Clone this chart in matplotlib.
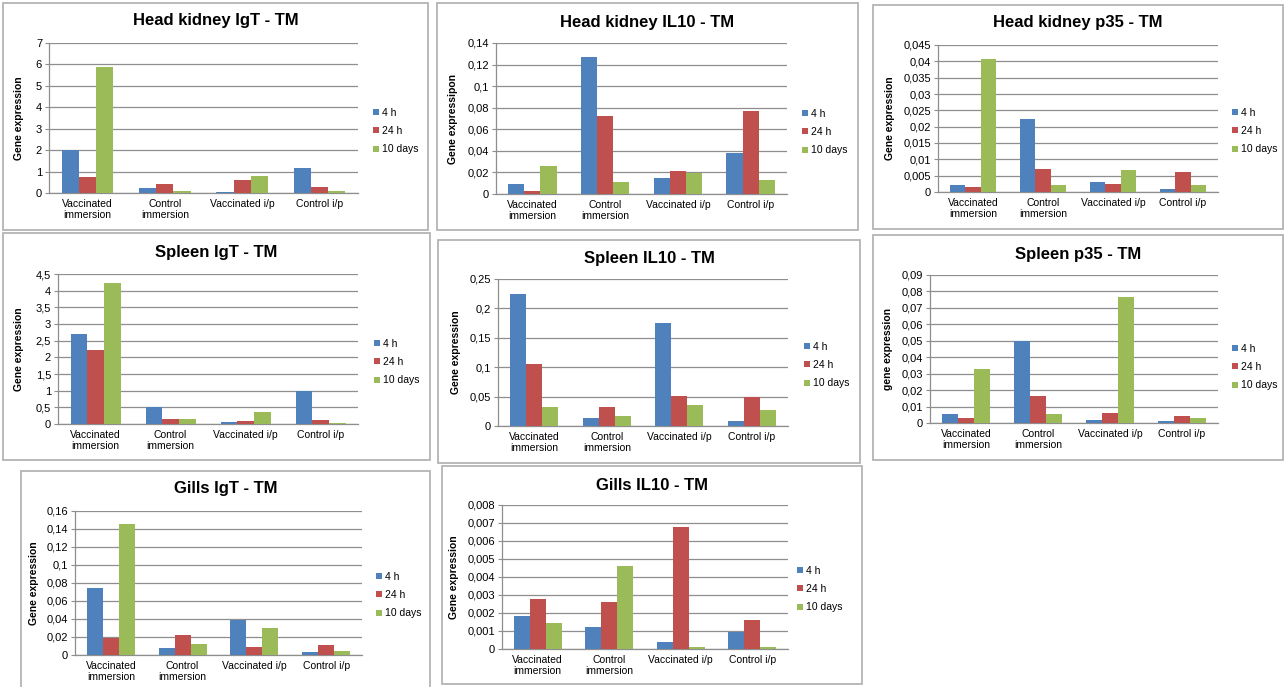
import matplotlib
matplotlib.use('Agg')
import matplotlib.pyplot as plt
from matplotlib.patches import Rectangle
from matplotlib.ticker import MultipleLocator, FuncFormatter
import numpy as np

plt.rcParams['font.family'] = ['Liberation Sans', 'DejaVu Sans']

W, H = 1288, 687

categories = ['Vaccinated\nimmersion', 'Control\nimmersion', 'Vaccinated i/p', 'Control i/p']
series = ['4 h', '24 h', '10 days']
colors = ['#4F81BD', '#C0504D', '#9BBB59']

# данные по панелям: [4 h, 24 h, 10 days]
hk_igt = [[2.03, 0.24, 0.05, 1.18],
          [0.77, 0.42, 0.60, 0.30],
          [5.90, 0.08, 0.80, 0.11]]
hk_il10 = [[0.0096, 0.127, 0.015, 0.038],
           [0.0028, 0.072, 0.0214, 0.0765],
           [0.0263, 0.0111, 0.0198, 0.0133]]
hk_p35 = [[0.0020, 0.0224, 0.0030, 0.0010],
          [0.0016, 0.0069, 0.0026, 0.0062],
          [0.0406, 0.0020, 0.0067, 0.0021]]
sp_igt = [[2.70, 0.50, 0.06, 1.00],
          [2.21, 0.16, 0.10, 0.11],
          [4.23, 0.14, 0.36, 0.04]]
sp_il10 = [[0.225, 0.013, 0.1756, 0.008],
           [0.1057, 0.0318, 0.0506, 0.050],
           [0.0324, 0.017, 0.0352, 0.0273]]
sp_p35 = [[0.0055, 0.050, 0.0020, 0.0014],
          [0.0033, 0.0165, 0.0063, 0.0041],
          [0.0327, 0.0057, 0.0769, 0.0031]]
gi_igt = [[0.075, 0.0074, 0.0388, 0.0033],
          [0.0192, 0.0222, 0.0085, 0.0111],
          [0.146, 0.0118, 0.0296, 0.0041]]
gi_il10 = [[0.00182, 0.0012, 0.0004, 0.00092],
           [0.0028, 0.00262, 0.0068, 0.00159],
           [0.00146, 0.00459, 0.0001, 0.0001]]

titles = ['Head kidney IgT - TM', 'Head kidney IL10 - TM', 'Head kidney p35 - TM',
          'Spleen IgT - TM', 'Spleen IL10 - TM', 'Spleen p35 - TM',
          'Gills IgT - TM', 'Gills IL10 - TM']
ylabels = ['Gene expression', 'Gene expressipon', 'Gene expression',
           'Gene expression', 'Gene expression', 'gene expression',
           'Gene expression', 'Gene expression']
ymax = [7, 0.14, 0.045, 4.5, 0.25, 0.09, 0.16, 0.008]
ystep = [1, 0.02, 0.005, 0.5, 0.05, 0.01, 0.02, 0.001]
values = [hk_igt, hk_il10, hk_p35, sp_igt, sp_il10, sp_p35, gi_igt, gi_il10]

# геометрия в пикселях
boxes = [(3, 3, 428, 230), (437, 3, 858, 230), (873, 5, 1283, 229),
         (3, 233, 430, 460), (438, 240, 860, 463), (873, 235, 1283, 460),
         (21, 471, 430, 692), (442, 466, 862, 684)]
axes_px = [(49, 43, 358, 193), (496, 43, 787, 194), (938, 45, 1218, 192),
           (58, 274, 358, 424), (498, 279, 788, 426), (930, 275, 1218, 423),
           (75, 511, 362, 655), (502, 505, 788, 649)]
title_y = [21, 23, 23, 253, 258, 254, 489, 485]
ylabel_x = [24, 458, 895, 24, 461, 893, 39, 459]
legend_xy = [(373, 131), (802, 132), (1232, 131), (374, 362), (804, 365),
             (1232, 367), (376, 595), (797, 589)]

fig = plt.figure(figsize=(W / 100, H / 100), dpi=100)


def fx(x):
    return x / W


def fy(y):
    return 1 - y / H


def comma(v, pos):
    s = f'{round(v, 6):g}'
    return s.replace('.', ',')


grid_c = '#8E8E8E'
bw = 1 / 4.5
x = np.arange(len(categories))

for i in range(8):
    bx0, by0, bx1, by1 = boxes[i]
    fig.patches.append(Rectangle((fx(bx0), fy(by1)), fx(bx1 - bx0), (by1 - by0) / H,
                                 transform=fig.transFigure, fill=False,
                                 edgecolor='#B4B4B4', linewidth=1.3))
    fig.text(fx((bx0 + bx1) / 2), fy(title_y[i]), titles[i], ha='center', va='center',
             fontsize=12, fontweight='bold')

    l, t, r, b = axes_px[i]
    ax = fig.add_axes([fx(l), fy(b), (r - l) / W, (b - t) / H])
    for k in range(3):
        ax.bar(x + (k - 1) * bw, values[i][k], bw, color=colors[k], label=series[k],
               zorder=3, linewidth=0)
    ax.set_xlim(-0.5, 3.5)
    ax.set_ylim(0, ymax[i])
    ax.yaxis.set_major_locator(MultipleLocator(ystep[i]))
    ax.yaxis.set_major_formatter(FuncFormatter(comma))
    ax.grid(axis='y', color=grid_c, linewidth=0.9, zorder=0)
    for sp in ['top', 'right']:
        ax.spines[sp].set_visible(False)
    for sp in ['left', 'bottom']:
        ax.spines[sp].set_color(grid_c)
        ax.spines[sp].set_linewidth(0.9)
    ax.set_xticks(x)
    ax.set_xticklabels(categories, fontsize=7.5)
    ax.tick_params(axis='x', length=0, pad=4)
    ax.tick_params(axis='y', labelsize=8, length=3, color=grid_c, pad=2)
    ax.set_ylabel(ylabels[i], fontsize=7.5, fontweight='bold')
    ax.yaxis.set_label_coords((ylabel_x[i] - l) / (r - l), 0.5)

    lx, ly = legend_xy[i]
    ax.legend(loc='center left', bbox_to_anchor=(fx(lx), fy(ly)),
              bbox_transform=fig.transFigure, frameon=False, fontsize=7.5,
              handlelength=0.55, handleheight=0.55, handletextpad=0.35,
              labelspacing=0.8, borderpad=0, borderaxespad=0)

fig.savefig('out.png', dpi=100)
